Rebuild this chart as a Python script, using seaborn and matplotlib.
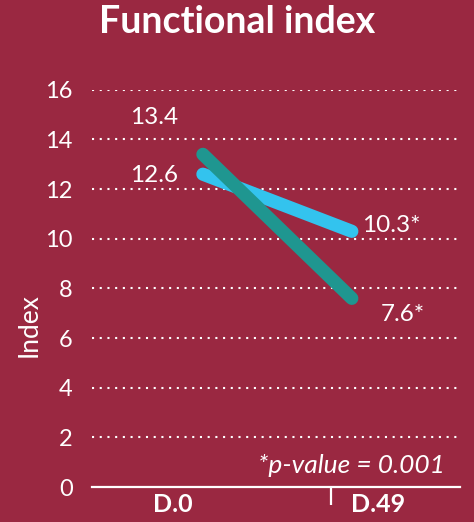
import pandas as pd
import seaborn as sns
import matplotlib.pyplot as plt

# chart data
days = ["D.0", "D.49"]
group_a = [12.6, 10.3]   # light blue line
group_b = [13.4, 7.6]    # teal line
labels_a = ["12.6", "10.3*"]
labels_b = ["13.4", "7.6*"]
y_ticks = [0, 2, 4, 6, 8, 10, 12, 14, 16]

bg = "#9A2841"
blue = "#33C3EE"
teal = "#1F9690"
fw = "normal"

df = pd.DataFrame({
    "day": days * 2,
    "value": group_a + group_b,
    "group": ["A"] * 2 + ["B"] * 2,
})

sns.set_style("white")
plt.rcParams["font.family"] = ["Lato", "DejaVu Sans"]

fig = plt.figure(figsize=(4.74, 5.22), dpi=100, facecolor=bg)
ax = fig.add_axes([0.194, 0.067, 0.776, 0.761])
ax.set_facecolor(bg)

sns.lineplot(data=df, x="day", y="value", hue="group",
             palette={"A": blue, "B": teal}, linewidth=9.5,
             legend=False, ax=ax)
for ln in ax.get_lines():
    ln.set_solid_capstyle("round")

ax.set_xlim(-0.745, 1.725)
ax.set_ylim(0, 16)

# dotted grid
for y in y_ticks[1:]:
    ax.axhline(y, color="white", lw=1.5, ls=(0, (1, 2.7)), zorder=0)

for s in ["top", "right", "left"]:
    ax.spines[s].set_visible(False)
ax.spines["bottom"].set_color("white")
ax.spines["bottom"].set_linewidth(1.6)

ax.set_yticks(y_ticks)
ax.set_yticklabels([str(v) for v in y_ticks])
ax.tick_params(axis="y", length=0, pad=14, labelcolor="white", labelsize=17)
for t in ax.get_yticklabels():
    t.set_fontweight(fw)

ax.set_xticks([-0.2, 1.174])
ax.set_xticklabels(days, fontweight="bold", fontsize=18, color="white")
ax.tick_params(axis="x", which="major", bottom=False, length=0, pad=4)
ax.set_xticks([0.86], minor=True)
ax.tick_params(axis="x", which="minor", bottom=True, length=13, width=1.6,
               color="white")
ax.set_xlabel("")

ax.set_ylabel("Index", color="white", fontsize=19, fontweight=fw)
ax.yaxis.set_label_coords(-0.138, 0.408)

# value labels
ax.text(-0.33, group_b[0] + 1.5, labels_b[0], color="white", fontsize=17.5,
        fontweight=fw, ha="center", va="center")
ax.text(-0.33, group_a[0] - 0.05, labels_a[0], color="white", fontsize=17.5,
        fontweight=fw, ha="center", va="center")
ax.text(1.07, group_a[1] + 0.25, labels_a[1], color="white", fontsize=17.5,
        fontweight=fw, ha="left", va="center")
ax.text(1.34, group_b[1] - 0.65, labels_b[1], color="white", fontsize=17.5,
        fontweight=fw, ha="center", va="center")

ax.text(1.625, 0.85, "*p-value = 0.001", color="white", fontsize=19,
        fontstyle="italic", fontweight=fw, ha="right", va="center")

fig.text(0.5, 0.958, "Functional index", color="white", fontsize=27,
         fontweight="bold", ha="center", va="center")

fig.savefig("out.png", dpi=100, facecolor=bg)
